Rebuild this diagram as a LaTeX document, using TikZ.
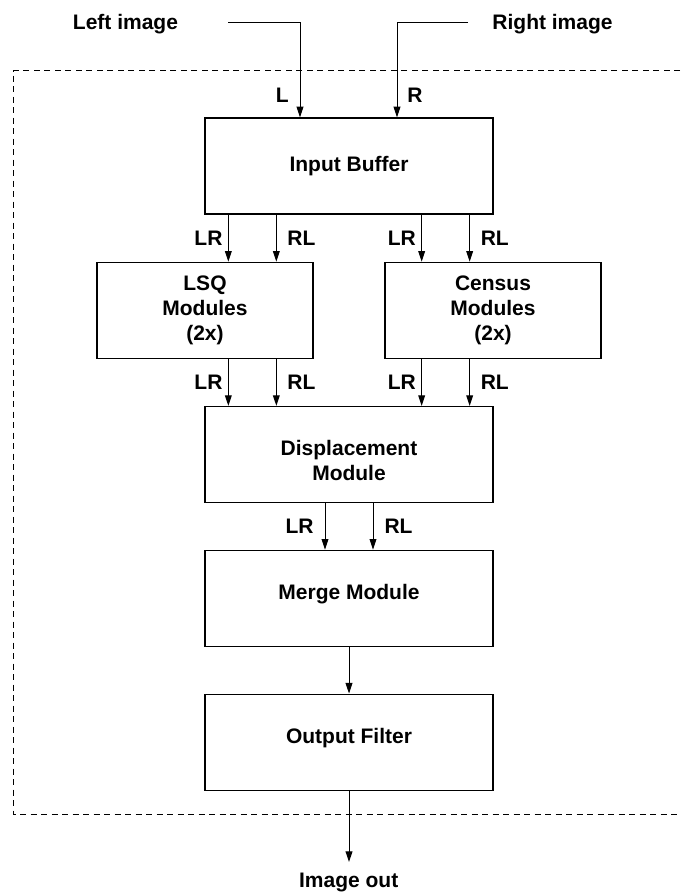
\documentclass[tikz,border=0pt]{standalone}
\usepackage{fontspec}
\setmainfont{Liberation Sans}
\usetikzlibrary{arrows.meta,calc}
\begin{document}
\begin{tikzpicture}[x=0.5pt,y=-0.5pt,
  font=\fontsize{10.5}{12.6}\selectfont\bfseries,
  box/.style={draw, line width=0.65pt, minimum width=144pt, minimum height=48pt, inner sep=0pt},
  sbox/.style={box, minimum width=108pt, align=center},
  flow/.style={line width=0.5pt, -{Triangle[length=5.3pt,width=3.4pt]}},
  tag/.style={inner sep=0pt},
  frame/.style={line width=0.5pt, dash pattern=on 3pt off 2.25pt}]
\useasboundingbox (0,0) rectangle (680,893);

% dashed border of the processing unit (open to the right)
\draw[frame] (680,70.7) -- (13,70.7) -- (13,814) -- (680,814);

% processing blocks
\node[box] (buf) at (349,166) {Input Buffer};
\node[sbox] (lsq) at (205,310.3) {LSQ\\Modules\\(2x)};
\node[sbox] (cen) at (493,310.3) {Census\\Modules\\(2x)};
\node[box, align=center] (disp) at (349,454.5) {\rule{0pt}{13.2pt}Displacement\\Module};
\node[box, text depth=6.2pt] (mrg) at (349,598.3) {Merge Module};
\node[box, text depth=6.2pt] (flt) at (349,742.2) {Output Filter};

% inputs and output
\node[tag, anchor=base] (limg) at (125.5,29.3) {Left image};
\node[tag, anchor=base] (rimg) at (552.5,29.3) {Right image};
\node[tag, anchor=base] (iout) at (348.7,887.7) {Image out};
\coordinate (lstart) at (228,22.7);
\coordinate (rstart) at (468,22.7);
\coordinate (lx) at (300,0);
\coordinate (rx) at (397,0);
\coordinate (outtip) at (349,862);

\draw[flow] (lstart) -| (lx |- buf.north);
\draw[flow] (rstart) -| (rx |- buf.north);
\node[tag, anchor=east] (ltag) at (289,95) {L};
\node[tag, anchor=west] (rtag) at (407,95) {R};

% input buffer to matching modules
\coordinate (c1) at ($(buf.south west)+(24,0)$);
\coordinate (c2) at ($(buf.south west)+(72,0)$);
\coordinate (c3) at ($(buf.south east)+(-72,0)$);
\coordinate (c4) at ($(buf.south east)+(-24,0)$);
\draw[flow] (c1) -- node[tag, left=2.7pt]{LR} (c1 |- lsq.north);
\draw[flow] (c2) -- node[tag, right=5.3pt]{RL} (c2 |- lsq.north);
\draw[flow] (c3) -- node[tag, left=2.7pt]{LR} (c3 |- cen.north);
\draw[flow] (c4) -- node[tag, right=5.3pt]{RL} (c4 |- cen.north);

% matching modules to displacement
\draw[flow] (c1 |- lsq.south) -- node[tag, left=2.7pt]{LR} (c1 |- disp.north);
\draw[flow] (c2 |- lsq.south) -- node[tag, right=5.3pt]{RL} (c2 |- disp.north);
\draw[flow] (c3 |- cen.south) -- node[tag, left=2.7pt]{LR} (c3 |- disp.north);
\draw[flow] (c4 |- cen.south) -- node[tag, right=5.3pt]{RL} (c4 |- disp.north);

% displacement to merge
\coordinate (d1) at ($(disp.south)+(-24,0)$);
\coordinate (d2) at ($(disp.south)+(24,0)$);
\draw[flow] (d1) -- node[tag, left=5.5pt]{LR} (d1 |- mrg.north);
\draw[flow] (d2) -- node[tag, right=5.5pt]{RL} (d2 |- mrg.north);

% merge to filter to output
\draw[flow] (mrg.south) -- (flt.north);
\draw[flow] (flt.south) -- (outtip);
\end{tikzpicture}
\end{document}
